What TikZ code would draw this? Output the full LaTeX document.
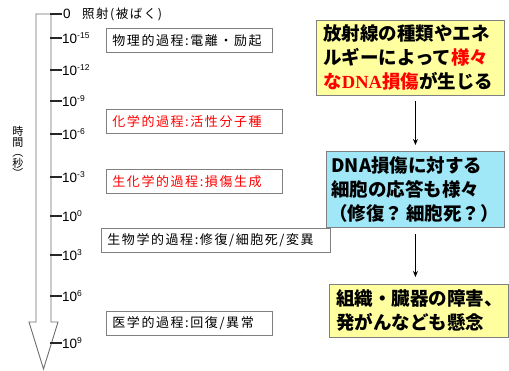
\documentclass[tikz,border=0pt]{standalone}
\usepackage{fontspec}
\setmainfont{Liberation Sans}
\newfontfamily\jp{Noto Sans CJK JP}
\newfontfamily\jpw{Noto Sans CJK JP}[LetterSpace=12]
\newfontfamily\dnaserif{Liberation Serif}
\usetikzlibrary{arrows.meta}
\definecolor{boxgray}{RGB}{128,128,128}
\definecolor{lightyellow}{RGB}{255,255,160}
\definecolor{lightcyan}{RGB}{160,232,248}
\definecolor{axisgray}{RGB}{110,110,110}
\tikzset{
  lbox/.style={draw=boxgray, line width=0.9pt, fill=white, anchor=north west,
    inner xsep=6pt, inner ysep=0pt, minimum height=24pt, align=left,
    font=\jpw\fontsize{13}{15}\selectfont},
  rbox/.style={draw=boxgray, line width=0.9pt, anchor=north west,
    inner xsep=7pt, inner ysep=0pt, align=left,
    font=\jp\bfseries\fontsize{18.5}{24}\selectfont},
  ticklab/.style={anchor=west, inner sep=0pt, font=\fontsize{13.5}{13.5}\selectfont},
  flow/.style={line width=1.3pt, -{Stealth[length=6pt,width=5pt]}},
}
\newcommand{\expo}[1]{10\raisebox{5pt}{\fontsize{8.5}{8.5}\selectfont #1}}
\begin{document}
\begin{tikzpicture}[x=1pt,y=-1pt]
\useasboundingbox (0,0) rectangle (509,371);
% hollow time arrow
\draw[axisgray, line width=0.9pt, fill=white, line join=miter]
  (36,14) -- (36,322) -- (29,322) -- (43.5,369) -- (58,322) -- (51,322) -- (51,14) -- cycle;
% ticks
\foreach \yy in {14,38,70,101,134,177,216,255,296,343}{
  \draw[line width=1.6pt, black!85] (50,\yy) -- (62,\yy);
}
\node[ticklab] (t0) at (63,14) {0};
\node[ticklab] (t1) at (62,38) {\expo{-15}};
\node[ticklab] (t2) at (62,70) {\expo{-12}};
\node[ticklab] (t3) at (62,101) {\expo{-9}};
\node[ticklab] (t4) at (62,134) {\expo{-6}};
\node[ticklab] (t5) at (62,177) {\expo{-3}};
\node[ticklab] (t6) at (62,216) {\expo{0}};
\node[ticklab] (t7) at (62,255) {\expo{3}};
\node[ticklab] (t8) at (62,296) {\expo{6}};
\node[ticklab] (t9) at (62,343) {\expo{9}};
\node[anchor=west, inner sep=0pt, font=\jpw\fontsize{12.5}{13}\selectfont] (irr) at (82,14) {照射(被ばく)};
% vertical axis title
\node[align=center, inner sep=0pt, font=\jp\fontsize{11}{10.5}\selectfont] (tm) at (18,152) {時\\間\\︵\\秒\\︶};
% process boxes
\node[lbox, text width=154pt] (p1) at (106,28) {物理的過程:電離・励起};
\node[lbox, text width=164pt, text=red] (p2) at (106,109) {化学的過程:活性分子種};
\node[lbox, text width=164pt, text=red] (p3) at (106,169) {生化学的過程:損傷生成};
\node[lbox, text width=217pt] (p4) at (101,228) {生物学的過程:修復/細胞死/変異};
\node[lbox, text width=154pt] (p5) at (106,311) {医学的過程:回復/異常};
% right flow boxes
\node[rbox, fill=lightyellow, text width=174pt, minimum height=75pt] (y1) at (316,20)
  {放射線の種類やエネ\\ルギーによって\textcolor{red}{様々}\\\textcolor{red}{な{\dnaserif DNA}損傷}が生じる};
\node[rbox, fill=lightcyan, inner xsep=3pt, text width=172pt, minimum height=76pt] (c1) at (326,151)
  {\hspace{2pt}DNA損傷に対する\\\hspace{2pt}細胞の応答も様々\\\mbox{（修復？\hspace{3pt}細胞死？）}};
\node[rbox, fill=lightyellow, text width=165pt, minimum height=53pt] (y2) at (329,284)
  {組織・臓器の障害、\\発がんなども懸念};
\draw[flow, shorten <=5pt, shorten >=6pt] (y1.south -| c1.north) -- (c1.north);
\draw[flow, shorten <=6pt, shorten >=7pt] (c1.south) -- (c1.south |- y2.north);
\end{tikzpicture}
\end{document}
